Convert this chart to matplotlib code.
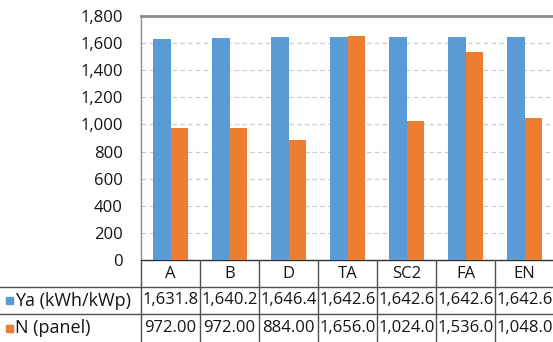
import matplotlib
matplotlib.use('Agg')
import matplotlib.pyplot as plt
import numpy as np

plt.rcParams['font.family'] = ['Open Sans', 'DejaVu Sans']

# Data series
categories = ['A', 'B', 'D', 'TA', 'SC2', 'FA', 'EN']
ya_kwh = [1631.8, 1640.2, 1646.4, 1642.6, 1642.6, 1642.6, 1642.6]
n_panel = [972.00, 972.00, 884.00, 1656.0, 1024.0, 1536.0, 1048.0]
ya_labels = ['1,631.8', '1,640.2', '1,646.4', '1,642.6', '1,642.6', '1,642.6', '1,642.6']
n_labels = ['972.00', '972.00', '884.00', '1,656.0', '1,024.0', '1,536.0', '1,048.0']
series_names = ['Ya (kWh/kWp)', 'N (panel)']
yticks = np.arange(0, 1801, 200)

BLUE = '#5B9BD5'
ORANGE = '#ED7D31'
TXT = '#141414'
W, H = 553, 342
FS = 12

fig = plt.figure(figsize=(W / 100, H / 100), dpi=100)

# --- chart area (pixel layout) ---
px_left, px_right, px_top, px_axis = 141, 554, 16, 260
ax = fig.add_axes([px_left / W, (H - px_axis) / H,
                   (px_right - px_left) / W, (px_axis - px_top) / H])

x = np.arange(len(categories))
bw = 0.29
ax.bar(x - bw / 2, ya_kwh, width=bw, color=BLUE, zorder=3)
ax.bar(x + bw / 2, n_panel, width=bw, color=ORANGE, zorder=3)

ax.set_xlim(-0.5, len(categories) - 0.5)
ax.set_ylim(0, 1800)
ax.set_yticks(yticks)
ax.set_yticklabels([f'{v:,}' for v in yticks], fontsize=FS, color=TXT)
ax.tick_params(axis='y', length=0, pad=13)
ax.set_xticks([])
ax.yaxis.grid(True, linestyle=(0, (4, 3)), color='#c8c8c8', linewidth=0.8, zorder=0)

ax.spines['right'].set_visible(False)
ax.spines['top'].set_color('#8c8c8c')
ax.spines['top'].set_linewidth(2)
ax.spines['left'].set_color('#8c8c8c')
ax.spines['left'].set_linewidth(1)
ax.spines['bottom'].set_color('#303030')
ax.spines['bottom'].set_linewidth(1)

# --- data table under the chart ---
col_w = (px_right - px_left) / len(categories)
tax = fig.add_axes([0, 0, px_right / W, (H - px_axis) / H])
tax.set_xlim(-0.5 - px_left / col_w, len(categories) - 0.5)
tax.set_ylim(0, H - px_axis)
tax.axis('off')

row_edges = [82, 55, 28, 0]
line_kw = dict(color='#505050', linewidth=1)
# vertical separators between categories
for b in np.arange(-0.5, len(categories), 1.0):
    tax.plot([b, b], [0, row_edges[0]], **line_kw)
# horizontal separators
left_edge = -0.5 - px_left / col_w
for yy in row_edges[1:3]:
    tax.plot([left_edge, len(categories) - 0.5], [yy, yy], **line_kw)

def row_mid(i):
    return (row_edges[i] + row_edges[i + 1]) / 2

for i, c in enumerate(categories):
    tax.text(i, row_mid(0), c, ha='center', va='center', fontsize=FS, color=TXT)
    tax.text(i, row_mid(1), ya_labels[i], ha='center', va='center', fontsize=FS, color=TXT)
    tax.text(i, row_mid(2), n_labels[i], ha='center', va='center', fontsize=FS, color=TXT)

# row headers with colour keys
for r, (name, col) in enumerate(zip(series_names, [BLUE, ORANGE]), start=1):
    y0 = row_mid(r)
    tax.add_patch(plt.Rectangle((left_edge + 6 / col_w, y0 - 3.5), 7 / col_w, 7,
                                color=col, clip_on=False))
    tax.text(left_edge + 15 / col_w, y0, name, ha='left', va='center',
             fontsize=13, color=TXT)

fig.savefig('out.png', dpi=100, facecolor='white')
